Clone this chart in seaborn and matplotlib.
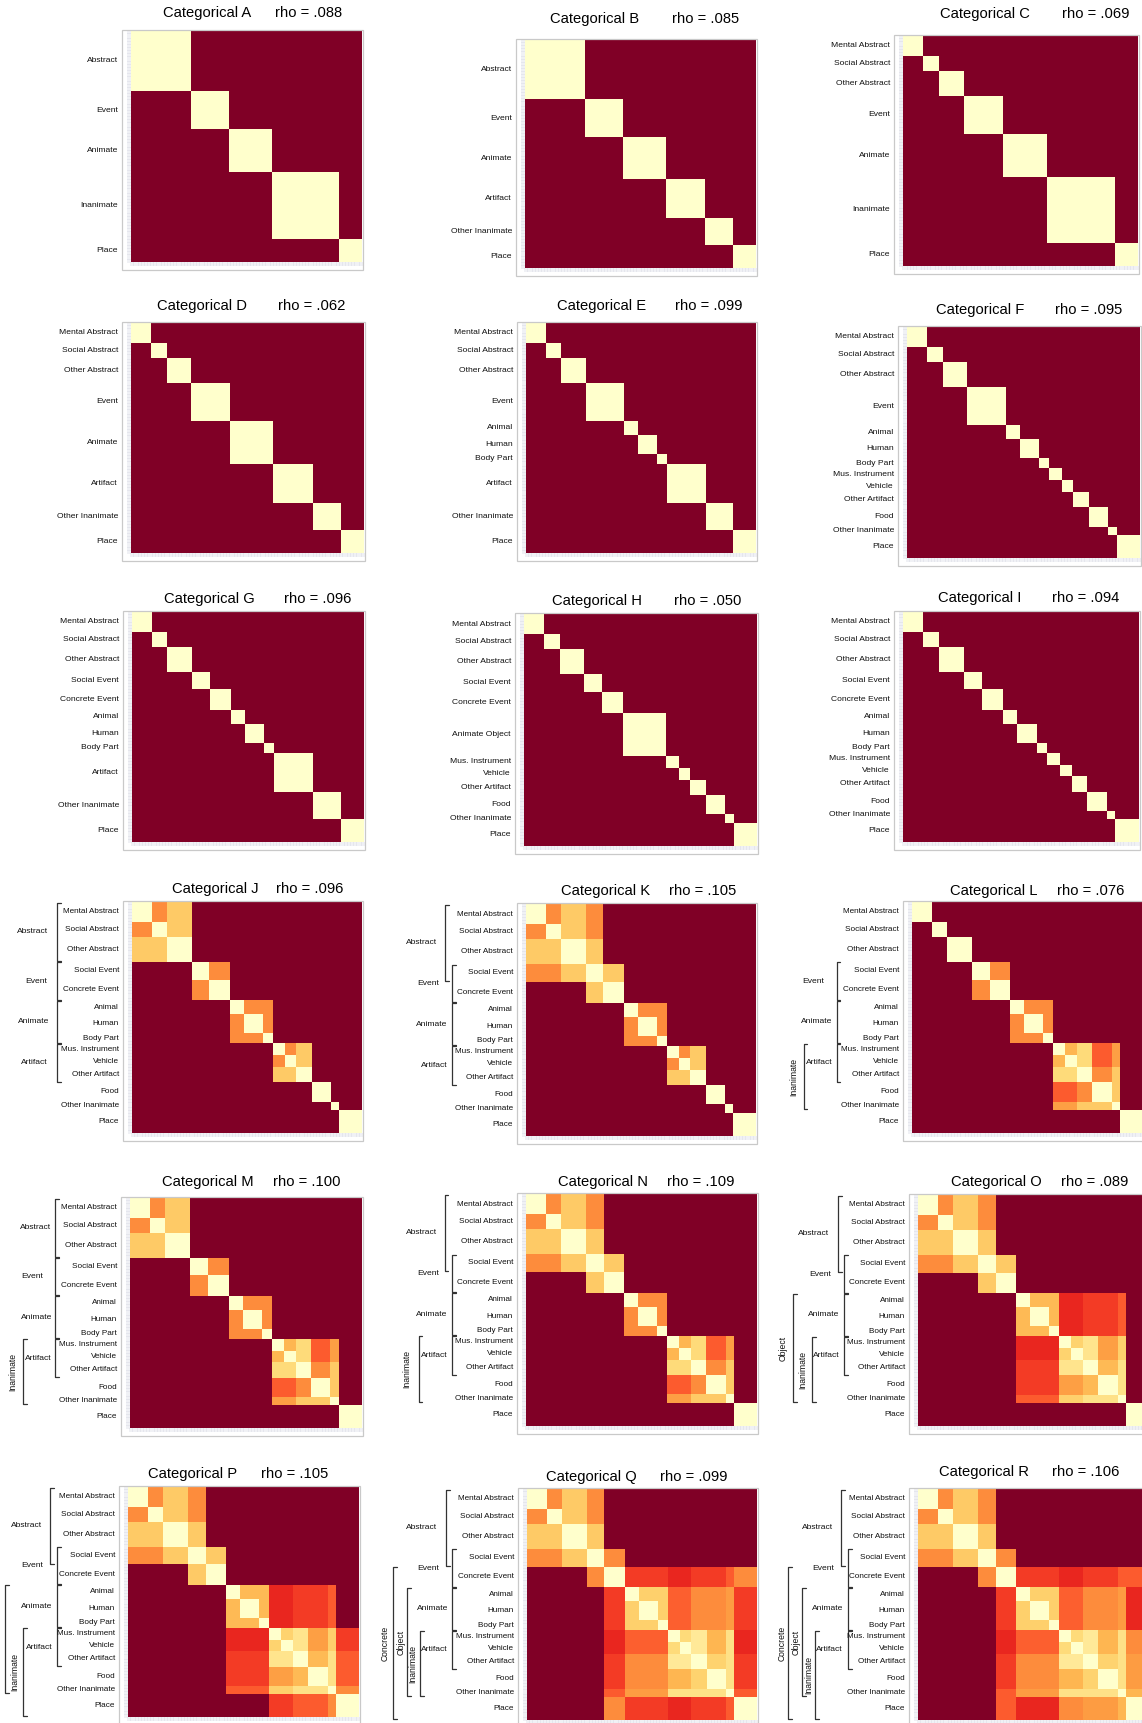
import numpy as np
import matplotlib
matplotlib.use("Agg")
import matplotlib.pyplot as plt
import matplotlib.transforms as mtransforms
from matplotlib.patches import Rectangle
from matplotlib.lines import Line2D
import seaborn as sns

sns.set_theme(style="white")
plt.rcParams["font.family"] = ["Liberation Sans", "DejaVu Sans"]

W, H = 1142, 1723

# ---- word categories (fine level) and number of words in each ----
CODES = ["MA", "SA", "OA", "SE", "CE", "AN", "HU", "BP", "MI", "VE", "OR", "FO", "OI", "PL"]
NAMES = ["Mental Abstract", "Social Abstract", "Other Abstract", "Social Event",
         "Concrete Event", "Animal", "Human", "Body Part", "Mus. Instrument",
         "Vehicle", "Other Artifact", "Food", "Other Inanimate", "Place"]
COUNTS = [26, 20, 32, 23, 27, 18, 25, 13, 16, 15, 20, 25, 11, 30]

# ---- model blocks: (label, member categories); a bare code is one fine category ----
A_BLOCKS = [("Abstract", "MA SA OA"), ("Event", "SE CE"), ("Animate", "AN HU BP"),
            ("Inanimate", "MI VE OR FO OI"), "PL"]
B_BLOCKS = [("Abstract", "MA SA OA"), ("Event", "SE CE"), ("Animate", "AN HU BP"),
            ("Artifact", "MI VE OR"), ("Other Inanimate", "FO OI"), "PL"]
C_BLOCKS = ["MA", "SA", "OA", ("Event", "SE CE"), ("Animate", "AN HU BP"),
            ("Inanimate", "MI VE OR FO OI"), "PL"]
D_BLOCKS = ["MA", "SA", "OA", ("Event", "SE CE"), ("Animate", "AN HU BP"),
            ("Artifact", "MI VE OR"), ("Other Inanimate", "FO OI"), "PL"]
E_BLOCKS = ["MA", "SA", "OA", ("Event", "SE CE"), "AN", "HU", "BP",
            ("Artifact", "MI VE OR"), ("Other Inanimate", "FO OI"), "PL"]
F_BLOCKS = ["MA", "SA", "OA", ("Event", "SE CE"), "AN", "HU", "BP",
            "MI", "VE", "OR", "FO", "OI", "PL"]
G_BLOCKS = ["MA", "SA", "OA", "SE", "CE", "AN", "HU", "BP",
            ("Artifact", "MI VE OR"), ("Other Inanimate", "FO OI"), "PL"]
H_BLOCKS = ["MA", "SA", "OA", "SE", "CE", ("Animate Object", "AN HU BP"),
            "MI", "VE", "OR", "FO", "OI", "PL"]
FINE_BLOCKS = list(CODES)

# ---- graded dissimilarities between categories (rows, cols, value) ----
J_PAIRS = [("MA", "SA", .50), ("MA SA", "OA", .30), ("SE", "CE", .50),
           ("AN HU BP", "AN HU BP", .50), ("MI", "VE", .50), ("MI VE", "OR", .30)]
K_PAIRS = [("MA", "SA", .50), ("MA SA", "OA", .30), ("MA SA", "SE", .50), ("OA", "SE", .30),
           ("SE", "CE", .30), ("AN HU BP", "AN HU BP", .50), ("MI", "VE", .50),
           ("MI VE", "OR", .30)]
L_PAIRS = [("SE", "CE", .50), ("AN HU BP", "AN HU BP", .50),
           ("MI", "VE", .36), ("MI VE", "OR", .24), ("MI VE", "FO", .60), ("OR", "FO", .50),
           ("MI VE", "OI", .44), ("OR FO", "OI", .30)]
M_PAIRS = [("MA", "SA", .50), ("MA SA", "OA", .30), ("SE", "CE", .50),
           ("AN HU BP", "AN HU BP", .50),
           ("MI", "VE", .36), ("MI VE", "OR", .24), ("MI VE", "FO", .60), ("OR", "FO", .50),
           ("MI VE", "OI", .44), ("OR FO", "OI", .30)]
N_PAIRS = [("MA", "SA", .50), ("MA SA", "OA", .30), ("MA SA", "SE", .50), ("OA", "SE", .30),
           ("SE", "CE", .30), ("AN HU BP", "AN HU BP", .50),
           ("MI", "VE", .36), ("MI VE", "OR", .24), ("MI VE", "FO", .60), ("OR", "FO", .50),
           ("MI VE", "OI", .44), ("OR FO", "OI", .30)]
O_PAIRS = [("MA", "SA", .50), ("MA SA", "OA", .30), ("MA SA", "SE", .50), ("OA", "SE", .30),
           ("SE", "CE", .30), ("AN HU BP", "AN HU BP", .35),
           ("AN HU BP", "MI VE", .72), ("AN HU BP", "OR FO", .67), ("AN HU BP", "OI", .60),
           ("MI", "VE", .27), ("MI VE", "OR", .18), ("MI VE", "FO", .44), ("OR", "FO", .35),
           ("MI VE", "OI", .28), ("OR FO", "OI", .20)]
P_PAIRS = O_PAIRS + [("PL", "MI VE", .67), ("PL", "OR FO", .60), ("PL", "OI", .50)]
Q_PAIRS = [("MA", "SA", .50), ("MA SA", "OA", .30), ("MA SA", "SE", .50), ("OA", "SE", .30),
           ("SE", "CE", .50),
           ("CE", "AN HU BP", .67), ("CE", "MI VE", .72), ("CE", "OR FO", .67),
           ("CE", "OI", .60), ("CE", "PL", .50),
           ("AN HU BP", "AN HU BP", .28), ("AN HU BP", "MI VE", .59),
           ("AN HU BP", "OR FO", .50), ("AN HU BP", "OI", .45), ("AN HU BP", "PL", .67),
           ("MI", "VE", .24), ("MI VE", "OR", .15), ("MI VE", "FO", .36), ("OR", "FO", .27),
           ("MI VE OR FO", "OI", .20),
           ("MI VE", "PL", .72), ("OR FO", "PL", .67), ("OI", "PL", .60)]
R_PAIRS = [("MA", "SA", .50), ("MA SA", "OA", .30), ("MA SA", "SE", .50), ("OA", "SE", .30),
           ("SE", "CE", .50),
           ("CE", "AN HU BP", .67), ("CE", "MI VE", .72), ("CE", "OR FO", .67),
           ("CE", "OI", .60), ("CE", "PL", .60),
           ("AN HU BP", "AN HU BP", .28), ("AN HU BP", "MI VE", .59),
           ("AN HU BP", "OR FO", .50), ("AN HU BP", "OI", .45), ("AN HU BP", "PL", .72),
           ("MI", "VE", .24), ("MI VE", "OR", .15), ("MI VE", "FO", .36), ("OR", "FO", .27),
           ("MI VE OR FO", "OI", .20),
           ("MI VE", "PL", .50), ("OR FO", "PL", .45), ("OI", "PL", .36)]

# ---- hierarchy brackets:
# (label, first code, last code, px left of heatmap, vertical label, px from bracket to label)
J_BRACKETS = [("Abstract", "MA", "OA", 75, False, 9), ("Event", "SE", "CE", 75, False, 10),
              ("Animate", "AN", "BP", 75, False, 8), ("Artifact", "MI", "OR", 75, False, 9)]
K_BRACKETS = [("Abstract", "MA", "SE", 81, False, 8), ("Event", "SE", "CE", 74, False, 13),
              ("Animate", "AN", "BP", 74, False, 5), ("Artifact", "MI", "OR", 74, False, 4)]
L_BRACKETS = [("Event", "SE", "CE", 75, False, 13), ("Animate", "AN", "BP", 75, False, 5),
              ("Artifact", "MI", "OR", 75, False, 4), ("Inanimate", "MI", "OI", 108, True, 10)]
M_BRACKETS = [("Abstract", "MA", "OA", 75, False, 4), ("Event", "SE", "CE", 75, False, 12),
              ("Animate", "AN", "BP", 75, False, 3), ("Artifact", "MI", "OR", 75, False, 3),
              ("Inanimate", "MI", "OI", 107, True, 10)]
N_BRACKETS = [("Abstract", "MA", "SE", 81, False, 8), ("Event", "SE", "CE", 74, False, 13),
              ("Animate", "AN", "BP", 74, False, 5), ("Artifact", "MI", "OR", 74, False, 4),
              ("Inanimate", "MI", "OI", 107, True, 12)]
O_BRACKETS = [("Abstract", "MA", "SE", 80, False, 9), ("Event", "SE", "CE", 74, False, 13),
              ("Animate", "AN", "BP", 74, False, 5), ("Artifact", "MI", "OR", 74, False, 4),
              ("Inanimate", "MI", "OI", 106, True, 9), ("Object", "AN", "OI", 125, True, 10)]
P_BRACKETS = [("Abstract", "MA", "SE", 78, False, 8), ("Event", "SE", "CE", 71, False, 14),
              ("Animate", "AN", "BP", 71, False, 5), ("Artifact", "MI", "OR", 71, False, 4),
              ("Inanimate", "MI", "PL", 105, True, 8), ("", "AN", "OI", 123, True, 8)]
Q_BRACKETS = [("Abstract", "MA", "SE", 81, False, 9), ("Event", "SE", "CE", 75, False, 13),
              ("Animate", "AN", "BP", 75, False, 4), ("Artifact", "MI", "OR", 75, False, 4),
              ("Inanimate", "MI", "OI", 107, True, 7), ("Object", "AN", "OI", 120, True, 6),
              ("Concrete", "CE", "PL", 134, True, 8)]
R_BRACKETS = [("Abstract", "MA", "SE", 77, False, 8), ("Event", "SE", "CE", 70, False, 14),
              ("Animate", "AN", "BP", 70, False, 5), ("Artifact", "MI", "OR", 70, False, 5),
              ("Inanimate", "MI", "PL", 103, True, 6), ("Object", "AN", "OI", 116, True, 6),
              ("Concrete", "CE", "PL", 130, True, 6)]

# ---- model fit values ----
RHO = {"A": ".088", "B": ".085", "C": ".069", "D": ".062", "E": ".099", "F": ".095",
       "G": ".096", "H": ".050", "I": ".094", "J": ".096", "K": ".105", "L": ".076",
       "M": ".100", "N": ".109", "O": ".089", "P": ".105", "Q": ".099", "R": ".106"}

PANELS = [
    ("A", A_BLOCKS, [], []), ("B", B_BLOCKS, [], []), ("C", C_BLOCKS, [], []),
    ("D", D_BLOCKS, [], []), ("E", E_BLOCKS, [], []), ("F", F_BLOCKS, [], []),
    ("G", G_BLOCKS, [], []), ("H", H_BLOCKS, [], []), ("I", FINE_BLOCKS, [], []),
    ("J", FINE_BLOCKS, J_PAIRS, J_BRACKETS), ("K", FINE_BLOCKS, K_PAIRS, K_BRACKETS),
    ("L", FINE_BLOCKS, L_PAIRS, L_BRACKETS), ("M", FINE_BLOCKS, M_PAIRS, M_BRACKETS),
    ("N", FINE_BLOCKS, N_PAIRS, N_BRACKETS), ("O", FINE_BLOCKS, O_PAIRS, O_BRACKETS),
    ("P", FINE_BLOCKS, P_PAIRS, P_BRACKETS), ("Q", FINE_BLOCKS, Q_PAIRS, Q_BRACKETS),
    ("R", FINE_BLOCKS, R_PAIRS, R_BRACKETS),
]

# ---- page layout in pixels: heatmap box (left, top, width, height) and title centres ----
BOX = {"A": (131, 31, 231, 231), "B": (525, 40, 231, 228), "C": (903, 36, 235, 230),
       "D": (131, 323, 233, 230), "E": (526, 323, 230, 230), "F": (907, 327, 233, 231),
       "G": (132, 612, 232, 230), "H": (524, 614, 233, 232), "I": (903, 612, 236, 230),
       "J": (132, 902, 230, 231), "K": (526, 904, 230, 232), "L": (912, 902, 231, 231),
       "M": (130, 1198, 232, 230), "N": (526, 1194, 231, 232), "O": (918, 1195, 231, 231),
       "P": (128, 1487, 231, 230), "Q": (527, 1489, 230, 231), "R": (918, 1489, 231, 231)}
TITLE_XY = {"A": (207, 309, 13), "B": (595, 706, 19), "C": (985, 1096, 14),
            "D": (202, 312, 306), "E": (602, 709, 306), "F": (980, 1089, 310),
            "G": (209, 318, 599), "H": (597, 708, 601), "I": (980, 1086, 598),
            "J": (215, 310, 889), "K": (606, 703, 891), "L": (994, 1091, 891),
            "M": (208, 307, 1182), "N": (603, 701, 1182), "O": (996, 1095, 1182),
            "P": (193, 295, 1474), "Q": (591, 694, 1477), "R": (984, 1086, 1472)}

CUM = np.concatenate([[0], np.cumsum(COUNTS)])
N_ITEMS = int(CUM[-1])


def code_idx(codes):
    return [CODES.index(c) for c in codes.split()]


def block_parts(b):
    if isinstance(b, tuple):
        return b[0], code_idx(b[1])
    return NAMES[CODES.index(b)], [CODES.index(b)]


def build_rdm(blocks, pairs):
    cat = np.ones((len(CODES), len(CODES)))
    for rows, cols, v in pairs:
        ia, ib = code_idx(rows), code_idx(cols)
        cat[np.ix_(ia, ib)] = v
        cat[np.ix_(ib, ia)] = v
    for b in blocks:
        _, ii = block_parts(b)
        cat[np.ix_(ii, ii)] = 0.0
    item_cat = np.repeat(np.arange(len(CODES)), COUNTS)
    return cat[np.ix_(item_cat, item_cat)]


fig = plt.figure(figsize=(W / 100, H / 100), dpi=100)
fig.patch.set_facecolor("white")

for key, blocks, pairs, brackets in PANELS:
    l, t, w, h = BOX[key]
    ax = fig.add_axes([l / W, 1 - (t + h) / H, w / W, h / H])
    rdm = build_rdm(blocks, pairs)
    sns.heatmap(rdm, cmap="YlOrRd", vmin=0, vmax=1, cbar=False, ax=ax,
                xticklabels=False, yticklabels=False, rasterized=True)

    # faint per-word ticks along the left and bottom edges
    ax.set_yticks(np.arange(0, N_ITEMS, 2) + 0.5)
    ax.set_xticks(np.arange(0, N_ITEMS, 2) + 0.5)
    ax.tick_params(axis="both", which="major", length=3.2, width=0.35, color="#c4c7d6",
                   left=True, bottom=True, labelleft=False, labelbottom=False, pad=0)

    # light grey frame round the image
    fig.add_artist(Rectangle(((l - 9) / W, 1 - (t + h + 8) / H), (w + 10) / W, (h + 9) / H,
                             transform=fig.transFigure, fill=False,
                             edgecolor="#c9c9c9", lw=0.9))

    trans = mtransforms.blended_transform_factory(ax.transAxes, ax.transData)
    label_size = 5.85 if brackets else 6.1

    # category labels
    for b in blocks:
        label, ii = block_parts(b)
        yc = (CUM[min(ii)] + CUM[max(ii) + 1]) / 2
        ax.text(-13 / w, yc, label, transform=trans, ha="right", va="center",
                fontsize=label_size, color="#111111", clip_on=False)

    # hierarchy brackets
    for label, c0, c1, off, vertical, gap in brackets:
        y0 = CUM[CODES.index(c0)] + 0.8
        y1 = CUM[CODES.index(c1) + 1] - 0.8
        x = -off / w
        tick = 3.5 / w
        ax.add_line(Line2D([x + tick, x, x, x + tick], [y0, y0, y1, y1], transform=trans,
                           color="#333333", lw=0.9, clip_on=False))
        if not label:
            continue
        if vertical:
            ax.text(x - gap / w, (y0 + y1) / 2, label, transform=trans, rotation=90,
                    ha="center", va="center", fontsize=6.2, color="#111111", clip_on=False)
        else:
            ax.text(x - gap / w, (y0 + y1) / 2, label, transform=trans, ha="right",
                    va="center", fontsize=6.1, color="#111111", clip_on=False)

    # panel title
    xc, xr, yt = TITLE_XY[key]
    fig.text(xc / W, 1 - yt / H, f"Categorical {key}", ha="center", va="center",
             fontsize=10.6, color="black")
    fig.text(xr / W, 1 - yt / H, f"rho = {RHO[key]}", ha="center", va="center",
             fontsize=10.6, color="black")

fig.savefig("out.png", dpi=100, facecolor="white")
